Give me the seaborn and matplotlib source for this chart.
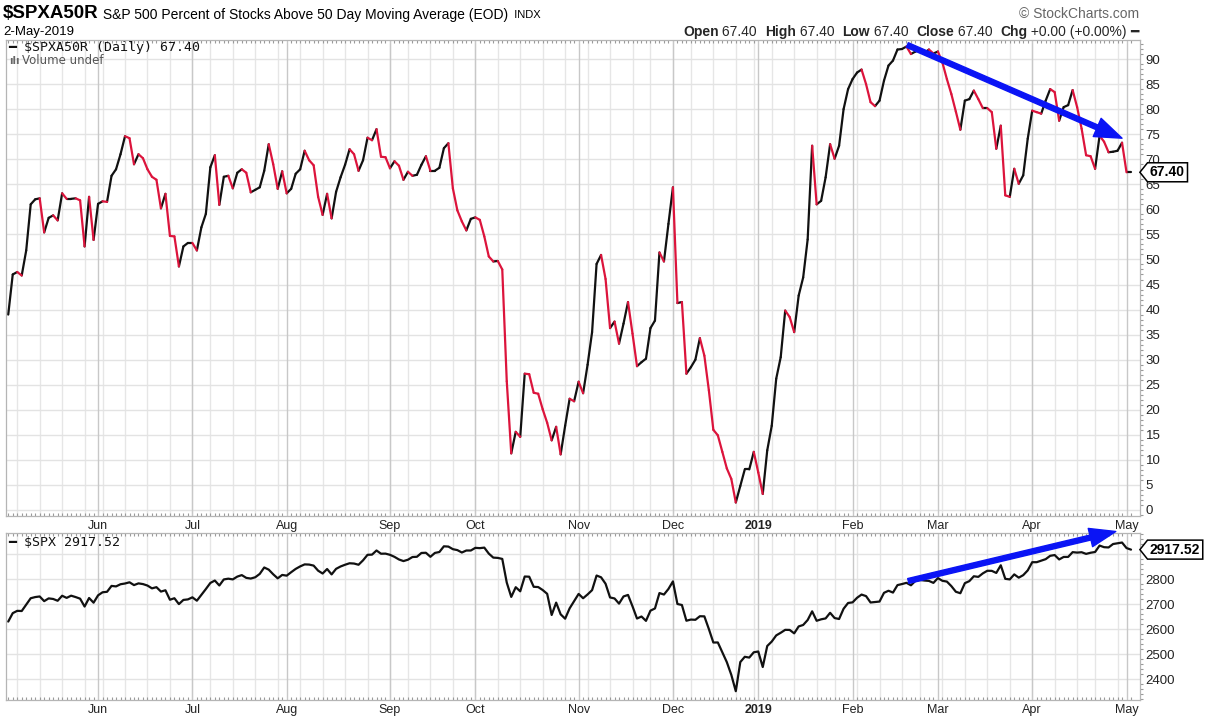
import numpy as np
import pandas as pd
import matplotlib
matplotlib.use("Agg")
import matplotlib.pyplot as plt
import seaborn as sns
from matplotlib.path import Path
from matplotlib.ticker import FixedLocator, MultipleLocator
from matplotlib.offsetbox import TextArea, HPacker, AnnotationBbox

# ---------------- data ----------------
START, END = "2018-05-03", "2019-05-02"
HOLIDAYS = ["2018-05-28", "2018-07-04", "2018-09-03", "2018-11-22", "2018-12-05",
            "2018-12-25", "2019-01-01", "2019-01-21", "2019-02-18", "2019-04-19"]

# $SPXA50R - % of S&P 500 stocks above 50-day MA (daily closes, by month)
breadth_may18 = [39, 47, 47.5, 46.8, 51.8, 61, 62, 62.2, 55.4, 58.3, 58.8, 57.8, 63.2, 62.1, 62.1, 62.2, 61.8, 52.6, 62.5, 53.9]
breadth_jun18 = [61.1, 61.6, 61.5, 66.7, 68, 71, 74.6, 74.2, 69, 71, 70.2, 68, 66.5, 65.9, 60.2, 63.1, 54.7, 54.6, 48.6, 52.6, 53.3]
breadth_jul18 = [53.3, 51.8, 56.4, 59.1, 68.4, 70.8, 60.9, 66.5, 66.7, 64.2, 67.3, 68, 67.3, 63.4, 63.9, 64.4, 67.7, 73, 69, 64.1, 67.6]
breadth_aug18 = [63.2, 64.1, 67.1, 68, 71.7, 69.8, 68.8, 62.5, 58.9, 63.1, 58.2, 63.5, 66.4, 68.9, 72, 71, 67.7, 69.8, 74.3, 73.8, 76, 70.5, 70.4]
breadth_sep18 = [68.2, 69.6, 68.7, 65.9, 67.5, 66.7, 66.9, 68.9, 70.6, 67.7, 67.7, 68.3, 72.2, 73.2, 64.2, 59.8, 57.6, 55.8, 58.1]
breadth_oct18 = [58.4, 57.9, 54.6, 50.6, 49.6, 49.7, 48, 25.7, 11.3, 15.6, 14.6, 27.2, 27.1, 23.4, 23.2, 20.1, 17.4, 13.9, 16.6, 11.1, 16.8, 22.2, 21.7]
breadth_nov18 = [25.6, 23.3, 29, 35.5, 49.1, 50.9, 46.1, 36.3, 37.6, 33.2, 37.2, 41.5, 35.2, 28.7, 29.5, 30.2, 36.3, 37.8, 51.4, 49.6, 57.1]
breadth_dec18 = [64.4, 41.3, 41.5, 27.2, 28.5, 30, 34.3, 30.8, 23.9, 16, 14.9, 11.6, 8.3, 6.2, 1.5, 4.8, 8.1, 8.1, 11.6]
breadth_jan19 = [7.5, 3.2, 11.9, 16.8, 26.2, 30.5, 39.8, 38.5, 35.5, 42.8, 46.4, 54, 72.7, 61, 61.7, 66.4, 73, 70.1, 72.7, 80, 84]
breadth_feb19 = [86, 87.3, 87.9, 85, 81.4, 80.6, 81.7, 85.7, 88.7, 89.7, 91.9, 92, 92.5, 91, 91.5, 91.8, 91.2, 91.9, 91.1]
breadth_mar19 = [91.5, 89.3, 86, 83, 79.5, 75.9, 81.7, 82, 83.7, 82, 80.2, 80.2, 79.4, 72.1, 76.7, 62.8, 62.5, 68.1, 65.1, 66.8, 74.1]
breadth_apr19 = [79.7, 79.4, 79.1, 81.7, 84, 83.4, 77.7, 80.4, 80.8, 83.8, 80.4, 76.1, 70.8, 70.6, 68.1, 74.7, 73.5, 71.4, 71.5, 71.7, 73.3]
breadth_may19 = [67.4, 67.4]

# $SPX daily closes, by month
spx_may18 = [2629.73, 2663.42, 2672.63, 2671.92, 2697.79, 2723.07, 2727.72, 2730.13, 2711.45, 2722.46, 2720.13, 2712.97, 2733.01, 2724.44, 2733.29, 2727.76, 2721.33, 2689.86, 2724.01, 2705.27]
spx_jun18 = [2734.62, 2746.87, 2748.80, 2772.35, 2770.37, 2779.03, 2782.00, 2786.85, 2775.63, 2782.49, 2779.66, 2773.75, 2762.59, 2767.32, 2749.76, 2754.88, 2717.07, 2723.06, 2699.63, 2716.31, 2718.37]
spx_jul18 = [2726.71, 2713.22, 2736.61, 2759.82, 2784.17, 2793.84, 2774.02, 2798.29, 2801.31, 2798.43, 2809.55, 2815.62, 2804.49, 2801.83, 2806.98, 2820.40, 2846.07, 2837.44, 2818.82, 2802.60, 2816.29]
spx_aug18 = [2813.36, 2827.22, 2840.35, 2850.40, 2858.45, 2857.70, 2853.58, 2833.28, 2821.93, 2839.96, 2818.37, 2840.69, 2850.13, 2857.05, 2862.96, 2861.82, 2856.98, 2874.69, 2896.74, 2897.52, 2914.04, 2901.13, 2901.52]
spx_sep18 = [2896.72, 2888.60, 2878.05, 2871.68, 2877.13, 2887.89, 2888.92, 2904.18, 2904.98, 2888.80, 2904.31, 2907.95, 2930.75, 2929.67, 2919.37, 2915.56, 2905.97, 2914.00, 2913.98]
spx_oct18 = [2924.59, 2923.43, 2925.51, 2901.61, 2885.57, 2884.43, 2880.34, 2785.68, 2728.37, 2767.13, 2750.79, 2809.92, 2809.21, 2768.78, 2767.78, 2755.88, 2740.69, 2656.10, 2705.57, 2658.69, 2641.25, 2682.63, 2711.74]
spx_nov18 = [2740.37, 2723.06, 2738.31, 2755.45, 2813.89, 2806.83, 2781.01, 2726.22, 2722.18, 2701.58, 2730.20, 2736.27, 2690.73, 2641.89, 2649.93, 2632.56, 2673.45, 2682.17, 2743.79, 2737.80, 2760.17]
spx_dec18 = [2790.37, 2700.06, 2695.95, 2633.08, 2637.72, 2636.78, 2651.07, 2650.54, 2599.95, 2545.94, 2546.16, 2506.96, 2467.42, 2416.62, 2351.10, 2467.70, 2488.83, 2485.74, 2506.85]
spx_jan19 = [2510.03, 2447.89, 2531.94, 2549.69, 2574.41, 2584.96, 2596.64, 2596.26, 2582.61, 2610.30, 2616.10, 2635.96, 2670.71, 2632.90, 2638.70, 2642.33, 2664.76, 2643.85, 2640.00, 2681.05, 2704.10]
spx_feb19 = [2706.53, 2724.87, 2737.70, 2731.61, 2706.05, 2707.88, 2709.80, 2744.73, 2753.03, 2745.73, 2775.60, 2779.76, 2784.70, 2774.88, 2792.67, 2796.11, 2793.90, 2792.38, 2784.49]
spx_mar19 = [2803.69, 2792.81, 2789.65, 2771.45, 2748.93, 2743.07, 2783.30, 2791.52, 2810.92, 2808.48, 2822.48, 2832.94, 2832.57, 2824.23, 2854.88, 2800.71, 2798.36, 2818.46, 2805.37, 2815.44, 2834.40]
spx_apr19 = [2867.19, 2867.24, 2873.40, 2879.39, 2892.74, 2895.77, 2878.20, 2888.21, 2888.32, 2907.41, 2905.58, 2907.06, 2900.45, 2905.03, 2907.97, 2933.68, 2927.25, 2926.17, 2939.88, 2943.03, 2945.83]
spx_may19 = [2923.73, 2917.52]

# trend-line annotations (trading-day index, value)
TREND_BREADTH = [(200.2, 92.8), (248.0, 74.2)]
TREND_SPX = [(200.4, 2792.0), (246.6, 2990.0)]

# ---------------- prep ----------------
dates = pd.bdate_range(START, END)
dates = dates[~dates.isin(pd.to_datetime(HOLIDAYS))]
breadth = np.concatenate([breadth_may18, breadth_jun18, breadth_jul18, breadth_aug18, breadth_sep18,
                          breadth_oct18, breadth_nov18, breadth_dec18, breadth_jan19, breadth_feb19,
                          breadth_mar19, breadth_apr19, breadth_may19])
spx = np.concatenate([spx_may18, spx_jun18, spx_jul18, spx_aug18, spx_sep18, spx_oct18, spx_nov18,
                      spx_dec18, spx_jan19, spx_feb19, spx_mar19, spx_apr19, spx_may19])
n = len(dates)
assert len(breadth) == n and len(spx) == n, (n, len(breadth), len(spx))
t = np.arange(n)

rows = []
for k in range(n - 1):
    d = "up" if breadth[k + 1] >= breadth[k] else "down"
    rows.append((k, t[k], breadth[k], d))
    rows.append((k, t[k + 1], breadth[k + 1], d))
seg = pd.DataFrame(rows, columns=["seg", "t", "v", "dir"])

month_idx = [k for k in range(1, n) if dates[k].month != dates[k - 1].month]
month_lbl = [str(dates[k].year) if dates[k].month == 1 else dates[k].strftime("%b") for k in month_idx]
week_idx = [k for k in range(1, n) if dates[k].weekday() < dates[k - 1].weekday() or (dates[k] - dates[k - 1]).days > 3]

# ---------------- figure ----------------
sns.set_theme(style="white")
plt.rcParams["font.family"] = ["Liberation Sans", "DejaVu Sans"]

W, H = 1218, 721
fig = plt.figure(figsize=(W / 100, H / 100), dpi=100)
fig.patch.set_facecolor("white")

ax1 = fig.add_axes([6 / W, 1 - 516 / H, 1134 / W, 476 / H])
ax2 = fig.add_axes([6 / W, 1 - 700 / H, 1134 / W, 167 / H])

UP, DOWN = "#111111", "#dc143c"
sns.lineplot(data=seg, x="t", y="v", hue="dir", units="seg", estimator=None, sort=False,
             palette={"up": UP, "down": DOWN}, linewidth=1.6, legend=False, ax=ax1,
             solid_capstyle="round", zorder=3)
sns.lineplot(x=t, y=spx, color=UP, linewidth=1.6, ax=ax2, zorder=3)

ax1.set_ylim(-1.2, 93.8)
ax2.set_ylim(2316, 2984)

spine_c = "#b5b5b5"
for ax in (ax1, ax2):
    ax.set_xlim(-0.5, 252)
    ax.set_xlabel("")
    ax.set_ylabel("")
    for w in week_idx:
        ax.axvline(w, color="#e6e6e6", lw=1, zorder=0)
    for m in month_idx:
        ax.axvline(m, color="#c8c8c8", lw=1, zorder=0.5)
    ax.set_xticks(month_idx)
    ax.set_xticklabels(month_lbl)
    ax.xaxis.set_minor_locator(FixedLocator(t))
    ax.tick_params(axis="x", which="major", length=0, pad=3, labelsize=9, labelcolor="#222222")
    ax.tick_params(axis="x", which="minor", length=2.5, direction="in", color="#9a9a9a", width=0.8,
                   top=True, bottom=True)
    ax.yaxis.tick_right()
    ax.tick_params(axis="y", which="major", length=0, pad=4, labelsize=9.5, labelcolor="#222222")
    ax.tick_params(axis="y", which="minor", length=2, direction="out", color="#9a9a9a", width=0.8,
                   right=True, left=False)
    ax.grid(False)
    for s in ax.spines.values():
        s.set_color(spine_c)
        s.set_linewidth(0.9)
    for lbl in ax.get_xticklabels():
        if lbl.get_text() == "2019":
            lbl.set_fontweight("bold")

ax1.set_yticks(np.arange(0, 95, 5))
ax1.yaxis.set_minor_locator(MultipleLocator(1))
for v in np.arange(0, 95, 5):
    ax1.axhline(v, color="#e3e3e3", lw=1, zorder=0)

ax2.set_yticks([2400, 2500, 2600, 2700, 2800, 2900])
ax2.set_yticklabels(["2400", "2500", "2600", "2700", "2800", ""])
ax2.yaxis.set_minor_locator(MultipleLocator(20))
for v in [2400, 2500, 2600, 2700, 2800, 2900]:
    ax2.axhline(v, color="#e3e3e3", lw=1, zorder=0)


# price tags on the right
def tag_box(x0, y0, width, height, mutation_size):
    pad = 0.18 * mutation_size
    x0 -= pad
    y0 -= pad
    x1 = x0 + width + 2 * pad
    y1 = y0 + height + 2 * pad
    ym = (y0 + y1) / 2
    tip = (y1 - y0) / 2 * 0.8
    return Path([(x0, y0), (x1, y0), (x1, y1), (x0, y1), (x0 - tip, ym), (x0, y0)],
                [Path.MOVETO, Path.LINETO, Path.LINETO, Path.LINETO, Path.LINETO, Path.CLOSEPOLY])


for ax, val, txt in ((ax1, breadth[-1], "67.40"), (ax2, spx[-1], "2917.52")):
    ax.annotate(txt, xy=(1, val), xycoords=("axes fraction", "data"), xytext=(10, 0),
                textcoords="offset pixels", ha="left", va="center", fontsize=10,
                fontweight="bold", color="black", annotation_clip=False, zorder=10,
                bbox=dict(boxstyle=tag_box, fc="white", ec="black", lw=1.1))

# blue trend arrows
ax1.annotate("", xy=TREND_BREADTH[1], xytext=TREND_BREADTH[0], annotation_clip=False,
             arrowprops=dict(arrowstyle="simple,head_length=1.3,head_width=0.95,tail_width=0.24",
                             mutation_scale=15, color="#0a14f5", shrinkA=0, shrinkB=0, zorder=6))
ax2.annotate("", xy=TREND_SPX[1], xytext=TREND_SPX[0], annotation_clip=False,
             arrowprops=dict(arrowstyle="simple,head_length=1.25,head_width=0.9,tail_width=0.24",
                             mutation_scale=15, color="#0a14f5", shrinkA=0, shrinkB=0, zorder=6))


def fx(px):
    return px / W


def fy(py):
    return 1 - py / H


# in-panel legends
fig.text(fx(8), fy(47), "━ \\$SPXA50R (Daily) 67.40", family=["DejaVu Sans Mono"], size=9.5,
         va="center", ha="left", color="#111111")
fig.text(fx(9), fy(61), "ılı", family=["DejaVu Sans"], size=7, weight="bold", va="center",
         ha="left", color="#666666")
fig.text(fx(22), fy(61), "Volume undef", family=["DejaVu Sans"], size=8.5, va="center",
         ha="left", color="#555555")
fig.text(fx(8), fy(543), "━ \\$SPX 2917.52", family=["DejaVu Sans Mono"], size=9.5,
         va="center", ha="left", color="#111111")

# header
title = HPacker(children=[
    TextArea("\\$SPXA50R", textprops=dict(size=13.5, weight="bold", color="black")),
    TextArea(" S&P 500 Percent of Stocks Above 50 Day Moving Average (EOD)",
             textprops=dict(size=10, color="black")),
    TextArea("  INDX", textprops=dict(size=8, color="black")),
], align="baseline", pad=0, sep=0)
fig.add_artist(AnnotationBbox(title, (fx(3), fy(14)), xycoords="figure fraction",
                              box_alignment=(0, 0.5), frameon=False, pad=0))
fig.text(fx(3), fy(32), "2-May-2019", size=9.5, va="center", ha="left", color="black")
fig.text(fx(1139), fy(14), "© StockCharts.com", size=10, va="center", ha="right", color="#666666")

ohlc = HPacker(children=[
    TextArea("Open", textprops=dict(size=10, weight="bold")),
    TextArea(" 67.40  ", textprops=dict(size=10)),
    TextArea("High", textprops=dict(size=10, weight="bold")),
    TextArea(" 67.40  ", textprops=dict(size=10)),
    TextArea("Low", textprops=dict(size=10, weight="bold")),
    TextArea(" 67.40  ", textprops=dict(size=10)),
    TextArea("Close", textprops=dict(size=10, weight="bold")),
    TextArea(" 67.40  ", textprops=dict(size=10)),
    TextArea("Chg", textprops=dict(size=10, weight="bold")),
    TextArea(" +0.00 (+0.00%) ", textprops=dict(size=10)),
    TextArea("━", textprops=dict(size=10, weight="bold", family=["DejaVu Sans"])),
], align="baseline", pad=0, sep=0)
fig.add_artist(AnnotationBbox(ohlc, (fx(1139), fy(32)), xycoords="figure fraction",
                              box_alignment=(1, 0.5), frameon=False, pad=0))

fig.savefig("out.png", dpi=100, facecolor="white")
